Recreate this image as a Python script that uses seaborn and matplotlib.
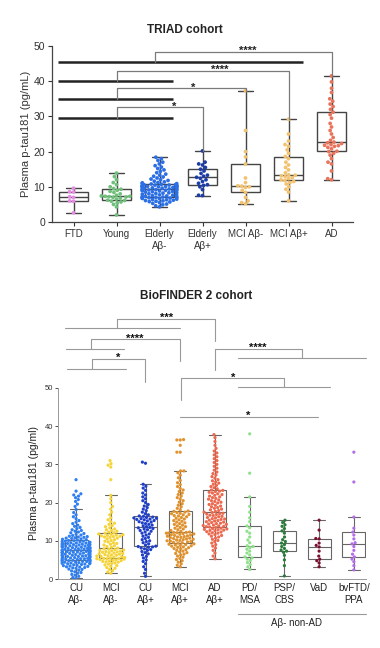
import numpy as np
import pandas as pd
import matplotlib
matplotlib.use("Agg")
import matplotlib.pyplot as plt
import seaborn as sns
import warnings
warnings.filterwarnings("ignore")

# ==================== TRIAD cohort ====================
triad_groups = ["FTD", "Young", "Elderly\nAβ-", "Elderly\nAβ+", "MCI Aβ-", "MCI Aβ+", "AD"]
triad_colors = ["#e58be3", "#6fc07a", "#2b6fe6", "#1c3ca8", "#f2c26e", "#f2c26e", "#e8745c"]

triad_ftd = [2.6, 5.9, 6.0, 7.0, 7.2, 8.5, 8.6, 9.6]
triad_young = [2.0, 4.3, 5.0, 5.4, 5.7, 5.9, 6.1, 6.2, 6.5, 6.8, 7.0, 7.1, 7.2, 7.3, 7.3,
               7.4, 7.6, 8.0, 8.4, 8.7, 9.0, 9.3, 9.5, 10.0, 10.6, 11.2, 12.0, 12.9, 13.9]
triad_eld_neg = [4.3, 4.6, 4.9, 5.1, 5.3, 5.5, 5.7, 5.8, 5.9, 6.0, 6.1, 6.2, 6.3, 6.4, 6.5,
                 6.6, 6.7, 6.8, 6.8, 6.9, 7.0, 7.0, 7.1, 7.1, 7.2, 7.2,
                 7.3, 7.4, 7.5, 7.6, 7.7, 7.8, 7.9, 8.0, 8.1, 8.2, 8.3, 8.4, 8.5, 8.6, 8.7,
                 8.8, 8.9, 8.9, 9.0, 9.0, 9.1, 9.1, 9.2, 9.2, 9.3,
                 9.4, 9.5, 9.5, 9.6, 9.7, 9.7, 9.8, 9.9, 9.9, 10.0, 10.0, 10.1, 10.1, 10.2,
                 10.2, 10.3, 10.3, 10.4, 10.4, 10.5, 10.5, 10.6, 10.6, 10.7, 10.8,
                 10.9, 11.0, 11.1, 11.2, 11.4, 11.6, 11.8, 12.0, 12.2, 12.5, 12.8, 13.0, 13.3,
                 13.6, 14.0, 14.4, 14.8, 15.2, 15.6, 16.0, 16.5, 17.0, 17.5, 18.0, 18.4]
triad_eld_pos = [7.5, 7.6, 9.2, 10.0, 10.4, 10.6, 11.0, 11.5, 12.0, 12.4, 12.7, 13.0, 13.3,
                 13.8, 14.5, 15.0, 15.5, 16.2, 16.5, 17.0, 20.2]
triad_mci_neg = [5.2, 5.5, 6.0, 7.0, 8.4, 9.0, 9.8, 10.0, 10.2, 10.3, 11.2, 12.5, 16.5, 18.5,
                 20.0, 26.0, 37.3]
triad_mci_pos = [6.0, 8.5, 9.3, 10.0, 10.8, 11.2, 11.5, 11.8, 12.0, 12.3, 12.6, 12.9, 13.1,
                 13.3, 13.4, 14.0, 14.8, 15.5, 16.2, 17.0, 18.0, 18.6, 19.5, 20.5, 21.5, 22.0,
                 23.0, 25.0, 29.2]
triad_ad = [12.0, 12.3, 14.5, 16.5, 17.0, 18.0, 19.0, 19.5, 20.0, 20.1, 20.8, 21.2, 21.5,
            21.7, 21.8, 22.0, 22.3, 22.5, 22.7, 23.2, 24.0, 25.0, 26.0, 27.0, 28.0, 29.5,
            30.5, 31.2, 32.0, 32.8, 33.5, 34.3, 35.0, 36.8, 38.0, 39.8, 41.5]

# ==================== BioFINDER 2 cohort ====================
bf_groups = ["CU\nAβ-", "MCI\nAβ-", "CU\nAβ+", "MCI\nAβ+", "AD\nAβ+", "PD/\nMSA",
             "PSP/\nCBS", "VaD", "bvFTD/\nPPA"]
bf_colors = ["#2f7ff0", "#f5d43a", "#1f3fc8", "#e0922e", "#ec6a50", "#8fe08a",
             "#2a7a3a", "#7a1030", "#b46de8"]

bf_cu_neg = [0.2, 0.4, 0.7, 1.0, 1.2, 1.5, 1.7, 1.9, 2.1, 2.3, 2.5, 2.6, 2.8, 2.9, 3.0,
             3.1, 3.2, 3.3, 3.4, 3.5, 3.6, 3.7, 3.8, 3.9, 4.0, 4.0, 4.1, 4.2, 4.2, 4.3,
             4.4, 4.4, 4.5, 4.6, 4.6, 4.7, 4.8, 4.8, 4.9, 4.9, 5.0,
             5.1, 5.1, 5.2, 5.3, 5.3, 5.4, 5.5, 5.5, 5.6, 5.7, 5.7, 5.8, 5.9, 5.9, 6.0,
             6.1, 6.1, 6.2, 6.3, 6.3, 6.4, 6.5, 6.5, 6.6, 6.7, 6.7, 6.8, 6.9, 6.9, 7.0,
             7.0, 7.1, 7.1, 7.2, 7.2, 7.3, 7.3, 7.4, 7.4, 7.5,
             7.6, 7.6, 7.7, 7.8, 7.8, 7.9, 8.0, 8.0, 8.1, 8.2, 8.2, 8.3, 8.4, 8.4, 8.5,
             8.6, 8.6, 8.7, 8.8, 8.8, 8.9, 9.0, 9.0, 9.1, 9.2, 9.2, 9.3, 9.4, 9.4, 9.5,
             9.6, 9.6, 9.7, 9.8, 9.9, 9.9, 10.0, 10.1, 10.2, 10.3,
             10.4, 10.5, 10.6, 10.7, 10.8, 10.9, 11.0, 11.1, 11.2, 11.4, 11.5, 11.7, 11.9,
             12.1, 12.3, 12.5, 12.7, 12.9, 13.2, 13.5, 13.8, 14.1, 14.5, 14.9, 15.3, 15.8,
             16.3, 16.8, 17.4, 18.2, 19.0, 19.6, 20.3, 20.8, 21.3, 21.7, 22.0, 22.3, 23.0, 26.0]
bf_mci_neg = [1.5, 1.8, 2.2, 2.5, 2.8, 3.0, 3.3, 3.5, 3.7, 3.9, 4.1, 4.2, 4.4, 4.5, 4.6,
              4.7, 4.8, 4.9, 5.0, 5.1, 5.2, 5.3, 5.3, 5.4, 5.4, 5.5,
              5.6, 5.7, 5.8, 5.9, 6.0, 6.1, 6.2, 6.3, 6.4, 6.5, 6.6, 6.7, 6.8, 6.9, 7.0,
              7.1, 7.2, 7.3, 7.4, 7.5, 7.6, 7.7, 7.8, 7.9, 8.1,
              8.3, 8.5, 8.7, 8.9, 9.1, 9.3, 9.5, 9.7, 9.9, 10.1, 10.3, 10.5, 10.7, 10.9,
              11.0, 11.1, 11.2, 11.3, 11.4, 11.5, 11.6, 11.7, 11.8, 12.0, 12.1,
              12.3, 12.5, 12.7, 12.9, 13.1, 13.4, 13.7, 14.0, 14.3, 14.6, 15.0, 15.5, 16.0,
              16.8, 17.5, 18.3, 19.0, 20.0, 21.0, 21.9, 26.0, 29.3, 29.8, 30.2, 31.0]
bf_cu_pos = [0.7, 1.5, 2.5, 3.2, 4.0, 4.6, 5.0, 5.5, 5.9, 6.3, 6.6, 6.9, 7.2, 7.5, 7.7,
             7.9, 8.1, 8.3, 8.4, 8.5, 8.6,
             8.9, 9.2, 9.5, 9.8, 10.0, 10.3, 10.6, 10.9, 11.2, 11.5, 11.8, 12.0, 12.3, 12.5,
             12.7, 12.9, 13.1, 13.2, 13.4, 13.5,
             13.7, 13.9, 14.1, 14.3, 14.5, 14.7, 14.9, 15.0, 15.2, 15.3, 15.5, 15.6, 15.7,
             15.8, 15.9, 16.0, 16.1, 16.2, 16.4, 16.5,
             16.8, 17.1, 17.5, 17.9, 18.3, 18.7, 19.1, 19.5, 20.0, 20.5, 21.0, 21.5, 22.0,
             22.5, 23.2, 23.8, 24.3, 24.8, 30.3, 30.6]
bf_mci_pos = [3.2, 3.6, 4.0, 4.4, 4.8, 5.1, 5.4, 5.7, 6.0, 6.3, 6.5, 6.7, 6.9, 7.1, 7.3,
              7.5, 7.7, 7.9, 8.0, 8.2, 8.3, 8.4, 8.6, 8.7, 8.8, 8.9, 9.0, 9.1, 9.2, 9.4, 9.5,
              9.6, 9.7, 9.8, 9.9, 10.0, 10.1, 10.2, 10.3, 10.4, 10.5, 10.6, 10.7, 10.8,
              10.9, 11.0, 11.1, 11.2, 11.3, 11.4, 11.5, 11.6, 11.7, 11.8, 11.9, 12.0, 12.0,
              12.1, 12.2, 12.2, 12.3,
              12.5, 12.7, 12.9, 13.1, 13.3, 13.5, 13.7, 13.9, 14.1, 14.3, 14.5, 14.7, 14.9,
              15.1, 15.3, 15.5, 15.7, 15.9, 16.1, 16.3, 16.5, 16.6, 16.8, 16.9, 17.1, 17.2,
              17.4, 17.5, 17.7, 17.8,
              18.1, 18.5, 18.9, 19.3, 19.7, 20.1, 20.5, 20.9, 21.3, 21.7, 22.1, 22.5, 22.9,
              23.3, 23.7, 24.2, 24.7, 25.2, 25.8, 26.5, 27.2, 27.8, 28.3, 28.3, 33.2, 33.2,
              35.0, 36.4, 36.4, 36.5]
bf_ad_pos = [5.3, 6.0, 6.8, 7.5, 8.1, 8.6, 9.0, 9.4, 9.8, 10.1, 10.4, 10.7, 11.0, 11.2,
             11.4, 11.6, 11.8, 12.0, 12.1, 12.3, 12.4, 12.6, 12.7, 12.8, 12.9, 13.0, 13.1,
             13.2, 13.3, 13.5, 13.6,
             13.7, 13.8, 13.9, 14.0, 14.1, 14.3, 14.4, 14.5, 14.6, 14.8, 14.9, 15.0, 15.2,
             15.3, 15.4, 15.6, 15.7, 15.8, 16.0, 16.1, 16.3, 16.4, 16.6, 16.7, 16.9, 17.0,
             17.1, 17.2, 17.4, 17.5,
             17.7, 17.9, 18.1, 18.3, 18.5, 18.7, 18.9, 19.1, 19.3, 19.5, 19.7, 19.9, 20.1,
             20.3, 20.5, 20.7, 20.9, 21.1, 21.3, 21.5, 21.7, 21.9, 22.1, 22.3, 22.5, 22.7,
             22.9, 23.0, 23.2, 23.3,
             23.6, 23.9, 24.2, 24.5, 24.8, 25.1, 25.4, 25.7, 26.0, 26.4, 26.8, 27.2, 27.6,
             28.0, 28.5, 29.0, 29.5, 30.0, 30.5, 31.0, 31.5, 32.0, 32.5, 33.0, 33.5, 34.2,
             35.0, 36.0, 37.0, 37.8]
bf_pd_msa = [2.5, 3.2, 3.8, 4.3, 4.8, 5.2, 5.5, 5.8, 6.3, 6.8, 7.3, 7.8, 8.2, 8.5, 8.7,
             9.5, 10.2, 11.0, 12.0, 12.5, 13.4, 13.9, 15.0, 16.0, 17.5, 19.0, 21.5, 27.7, 38.0]
bf_psp_cbs = [0.8, 3.5, 5.0, 6.2, 7.0, 7.3, 7.6, 8.0, 8.5, 9.0, 9.4, 9.8, 10.3, 11.0, 12.0,
              12.6, 13.2, 13.8, 14.2, 14.8, 15.4]
bf_vad = [3.2, 4.2, 4.8, 5.2, 6.0, 7.3, 8.4, 8.8, 9.4, 10.5, 10.6, 12.8, 15.4]
bf_ftd_ppa = [2.4, 3.5, 4.5, 5.2, 5.8, 6.5, 7.5, 8.5, 9.2, 9.5, 10.5, 11.5, 12.3, 13.3,
              16.2, 25.4, 33.2]


def long_table(groups, series):
    return pd.concat([pd.DataFrame({"group": g, "value": v}) for g, v in zip(groups, series)],
                     ignore_index=True)


df_triad = long_table(triad_groups, [triad_ftd, triad_young, triad_eld_neg, triad_eld_pos,
                                     triad_mci_neg, triad_mci_pos, triad_ad])
df_bf = long_table(bf_groups, [bf_cu_neg, bf_mci_neg, bf_cu_pos, bf_mci_pos, bf_ad_pos,
                               bf_pd_msa, bf_psp_cbs, bf_vad, bf_ftd_ppa])

sns.set_style("white")
plt.rcParams["font.family"] = ["Liberation Sans", "DejaVu Sans"]

fig = plt.figure(figsize=(3.8, 6.48), dpi=100)

# ---------- top panel ----------
ax1 = fig.add_axes([52 / 380, 1 - 222 / 648, 301 / 380, 176 / 648])
sns.boxplot(data=df_triad, x="group", y="value", order=triad_groups, ax=ax1,
            whis=(0, 100), width=0.68, color="white", linecolor="#444444",
            linewidth=1.0, showfliers=False)
sns.swarmplot(data=df_triad, x="group", y="value", order=triad_groups, hue="group",
              palette=triad_colors, size=2.7, ax=ax1, legend=False, zorder=3)
ax1.set_xlim(-0.5, 6.5)
ax1.set_ylim(0, 50)
ax1.set_yticks([0, 10, 20, 30, 40, 50])
ax1.set_xlabel("")
ax1.set_ylabel("Plasma p-tau181 (pg/mL)", fontsize=8, color="#333333", labelpad=2)
ax1.tick_params(axis="both", labelsize=7.5, colors="#333333", length=3, width=0.8,
                left=True, bottom=True, pad=2)
ax1.tick_params(axis="x", labelsize=7)
for s in ["top", "right"]:
    ax1.spines[s].set_visible(False)
for s in ["left", "bottom"]:
    ax1.spines[s].set_color("#444444")
    ax1.spines[s].set_linewidth(0.9)

# comparison brackets (ref line y, ref line end, leg x, bracket top, target x, target y, star x, label)
triad_brackets = [
    (45.5, 5.34, 1.9, 48.4, 6, 41.5, 4.05, "****"),
    (40.0, 2.31, 1.0, 43.0, 5, 29.2, 3.4, "****"),
    (35.0, 2.31, 1.0, 38.0, 4, 37.3, 2.78, "*"),
    (29.5, 2.31, 1.0, 32.6, 3, 20.2, 2.34, "*"),
]
for base_y, base_x1, leg_x, top_y, tx, ty, sx, lab in triad_brackets:
    ax1.plot([-0.36, base_x1], [base_y, base_y], color="#222222", lw=1.8,
             solid_capstyle="butt", zorder=4)
    ax1.plot([leg_x, leg_x, tx, tx], [base_y, top_y, top_y, ty], color="#7a7a7a",
             lw=0.9, zorder=4, clip_on=False)
    ax1.text(sx, top_y - 0.7, lab, ha="center", va="baseline", fontsize=8,
             fontweight="bold", color="#222222")

fig.text(185 / 380, 1 - 30 / 648, "TRIAD cohort", ha="center", va="center",
         fontsize=8.5, fontweight="bold", color="#222222")

# ---------- bottom panel ----------
ax2 = fig.add_axes([58 / 380, 1 - 579 / 648, 308 / 380, 191 / 648])
sns.boxplot(data=df_bf, x="group", y="value", order=bf_groups, ax=ax2,
            whis=1.5, width=0.66, color="white", linecolor="#666666",
            linewidth=0.8, showfliers=False)
sns.swarmplot(data=df_bf, x="group", y="value", order=bf_groups, hue="group",
              palette=bf_colors, size=2.3, ax=ax2, legend=False, zorder=3, warn_thresh=1)
ax2.set_xlim(-0.52, 8.35)
ax2.set_ylim(0, 50)
ax2.set_yticks([0, 10, 20, 30, 40, 50])
ax2.set_xlabel("")
ax2.set_ylabel("Plasma p-tau181 (pg/ml)", fontsize=7.5, color="#222222", labelpad=4)
ax2.tick_params(axis="y", labelsize=5.5, colors="#333333", length=2, width=0.6,
                left=True, pad=1.5)
ax2.tick_params(axis="x", labelsize=7, colors="#222222", length=0, pad=3)
for s in ["top", "right"]:
    ax2.spines[s].set_visible(False)
for s in ["left", "bottom"]:
    ax2.spines[s].set_color("#999999")
    ax2.spines[s].set_linewidth(0.7)

gray = "#999999"
# (x list, y list) polylines for brackets drawn above the axes
bf_lines = [
    ([-0.32, 3.0], [65.7, 65.7]),
    ([1.18, 1.18, 4.0, 4.0], [65.7, 68.1, 68.1, 62.3]),
    ([-0.29, 1.38], [60.2, 60.2]),
    ([0.43, 0.43, 3.0, 3.0], [60.2, 62.8, 62.8, 57.1]),
    ([-0.26, 1.44], [55.0, 55.0]),
    ([0.46, 0.46, 1.99, 1.99], [55.0, 57.6, 57.6, 51.6]),
    ([4.0, 4.0, 6.51, 6.51], [54.7, 60.2, 60.2, 57.9]),
    ([4.67, 8.36], [57.9, 57.9]),
    ([3.03, 3.03, 5.99, 5.99], [46.9, 52.6, 52.6, 50.3]),
    ([4.67, 7.32], [50.3, 50.3]),
    ([3.0, 6.97], [42.4, 42.4]),
]
for xs, ys in bf_lines:
    ax2.plot(xs, ys, color=gray, lw=0.8, clip_on=False, zorder=4)

bf_stars = [(2.62, 67.5, "***"), (1.70, 62.2, "****"), (1.21, 57.0, "*"),
            (5.24, 59.6, "****"), (4.52, 52.0, "*"), (4.97, 41.8, "*")]
for sx, sy, lab in bf_stars:
    ax2.text(sx, sy, lab, ha="center", va="baseline", fontsize=8, fontweight="bold",
             color="#111111", clip_on=False)

# group label under the non-AD categories
ax2.plot([4.67, 8.36], [-9.2, -9.2], color=gray, lw=0.8, clip_on=False)
ax2.text(6.34, -10.3, "Aβ- non-AD", ha="center", va="top", fontsize=7, color="#222222")

fig.text(196 / 380, 1 - 296 / 648, "BioFINDER 2 cohort", ha="center", va="center",
         fontsize=8.5, fontweight="bold", color="#222222")

fig.savefig("out.png", dpi=100)
